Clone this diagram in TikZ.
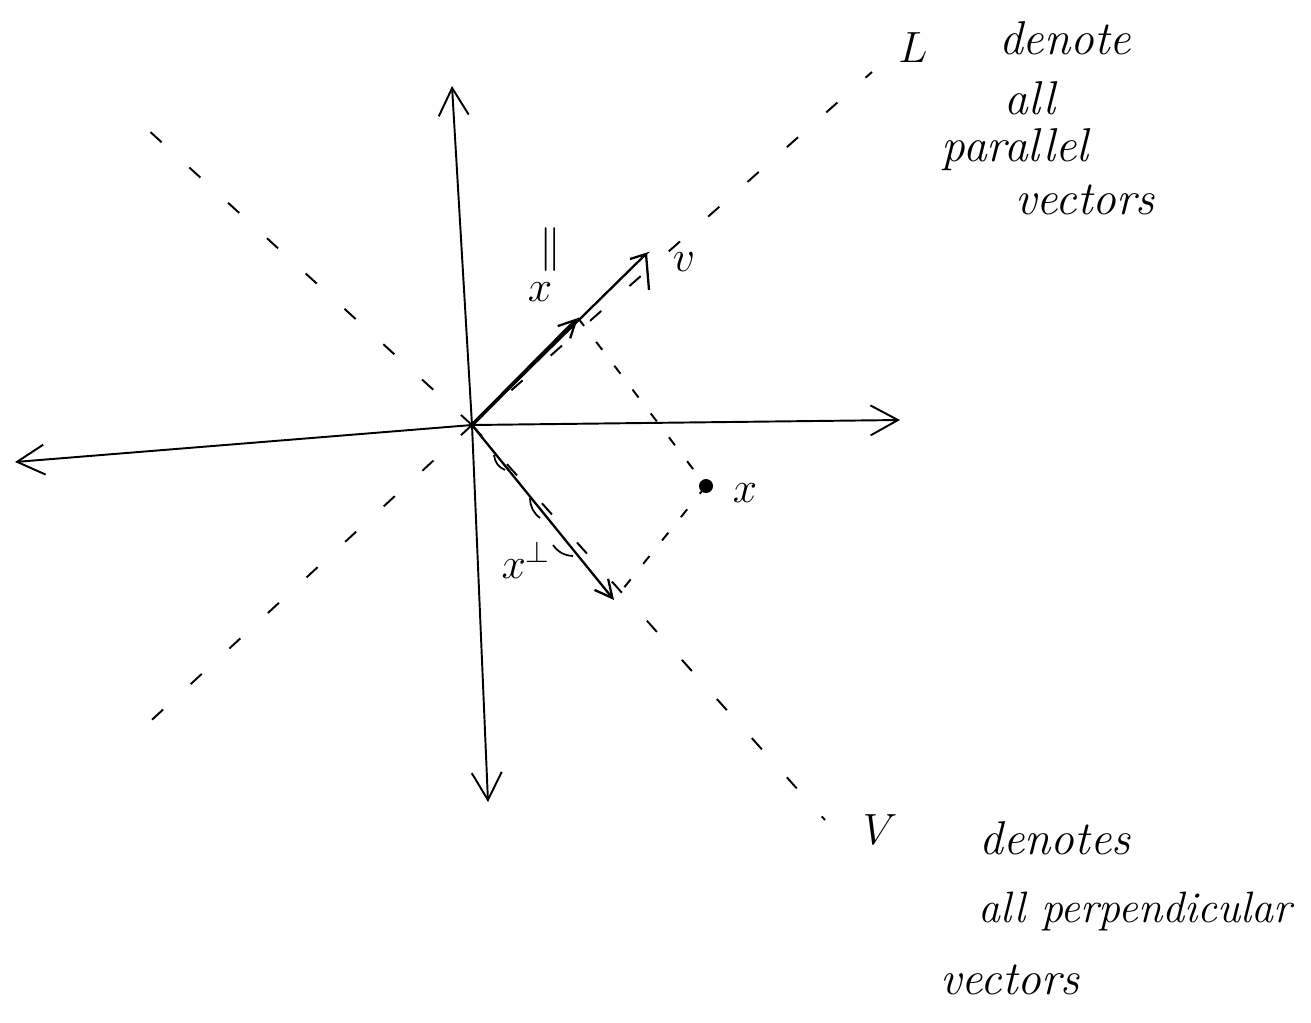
\documentclass[tikz,border=0pt]{standalone}
\usetikzlibrary{arrows.meta}
\begin{document}
\begin{tikzpicture}[x=0.02cm,y=-0.02cm,
  axis/.style={line width=1.1pt,-{Straight Barb[length=0.55cm,width=0.6cm,line width=1.1pt]}},
  vec/.style={line width=1.3pt,-{Straight Barb[length=0.35cm,width=0.35cm,line width=1.3pt]}},
  sparse/.style={line width=1.1pt,dash pattern=on 0.3cm off 0.75cm},
  proj/.style={line width=1.1pt,dash pattern=on 0.2cm off 0.4cm},
  hand/.style={font=\fontsize{27}{34}\selectfont\itshape,inner sep=0pt},
  lab/.style={font=\fontsize{26}{30}\selectfont,inner sep=0pt}]
\useasboundingbox (0,0) rectangle (1311,1022);
\fill[white] (0,0) rectangle (1311,1022);
% key points
\coordinate (O) at (472,425);
\coordinate (Ltop) at (872,72);
\coordinate (Lbot) at (130,740);
\coordinate (Vtop) at (135,118);
\coordinate (Vbot) at (825,820);
\coordinate (Xpar) at (578,318);
\coordinate (Xperp) at (614,600);
\coordinate (Vtip) at (646,254);
\coordinate (X) at (706,486);
% dashed lines L and V
\draw[sparse] (O) -- (Ltop);
\draw[sparse] (O) -- (Lbot);
\draw[sparse] (O) -- (Vtop);
\draw[sparse] (O) -- (Vbot);
% axes
\draw[axis] (O) -- (900,420);
\draw[axis] (O) -- (15,462);
\draw[axis] (O) -- (452,86);
\draw[axis] (O) -- (488,802);
% vectors
\draw[line width=1.3pt] (O) -- (Vtip) -- ++(-16,5);
\draw[line width=1.3pt] (Vtip) -- ++(3,36);
\draw[vec,line width=2pt] (O) -- (Xpar);
\draw[vec] (O) -- (Xperp);
% projection lines
\draw[proj] (Xpar) -- (X);
\draw[proj] (X) -- (Xperp);
\fill (X) circle (7);
% small arc marks
\draw[line width=1pt] (494,455) to[bend right=30] (505,470);
\draw[line width=1pt] (530,498) to[bend right=25] (540,518);
\draw[line width=1pt] (553,545) to[bend right=25] (573,556);
% labels
\node[lab] (vlab) at (684,262) {$v$};
\node[lab] (xparlab) at (540,292) {$x$};
\node[lab] (parmark) at (550,250) {$\parallel$};
\node[lab] (xlab) at (745,493) {$x$};
\node[lab] (xperplab) at (526,560) {$x^{\perp}$};
\node[lab,font=\fontsize{32}{36}\selectfont] (Llab) at (913,48) {$L$};
\node[lab,font=\fontsize{32}{36}\selectfont] (Vlab) at (880,830) {$V$};
\node[hand] (t1) at (1065,38) {denote};
\node[hand] (t2) at (1030,98) {all};
\node[hand] (t3) at (1015,150) {parallel};
\node[hand] (t4) at (1085,200) {vectors};
\node[hand] (b1) at (1055,838) {denotes};
\node[hand,font=\fontsize{25}{30}\selectfont\itshape] (b2) at (1135,912) {all perpendicular};
\node[hand] (b3) at (1010,980) {vectors};
\end{tikzpicture}
\end{document}
